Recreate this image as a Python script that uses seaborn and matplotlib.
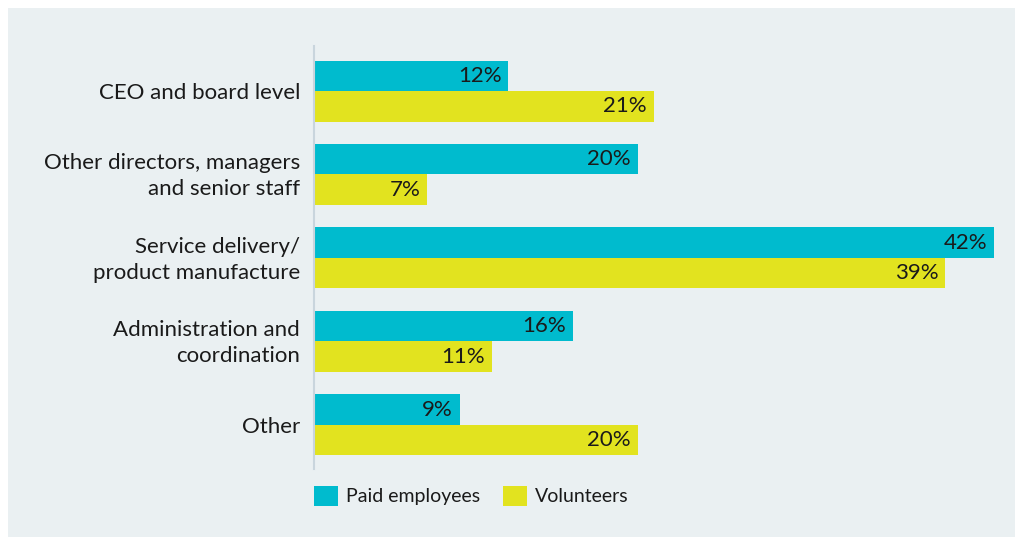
import matplotlib
matplotlib.use("Agg")
import matplotlib.pyplot as plt
import matplotlib.transforms as mtransforms
import seaborn as sns
import pandas as pd
from matplotlib.patches import Rectangle, Patch

categories = [
    "CEO and board level",
    "Other directors, managers\nand senior staff",
    "Service delivery/\nproduct manufacture",
    "Administration and\ncoordination",
    "Other",
]
paid_employees = [12, 20, 42, 16, 9]
volunteers = [21, 7, 39, 11, 20]
series_names = ["Paid employees", "Volunteers"]

TEAL = "#00BBCE"
YELLOW = "#E2E31F"
PANEL = "#EAF0F2"
TEXT = "#1A1A1A"

df = pd.DataFrame({
    "category": categories * 2,
    "value": paid_employees + volunteers,
    "series": [series_names[0]] * len(categories) + [series_names[1]] * len(categories),
})

sns.set_theme(style="white")
plt.rcParams["font.family"] = ["Lato", "DejaVu Sans"]

W, H = 1015, 537
fig = plt.figure(figsize=(W / 100, H / 100), dpi=100)
fig.patch.set_facecolor("white")
fig.patches.append(Rectangle((8 / W, 0), 1 - 8 / W, 1 - 8 / H, transform=fig.transFigure,
                             facecolor=PANEL, edgecolor="none", zorder=-1))

ax = fig.add_axes([314 / W, 1 - 469 / H, (994 - 314) / W, (469 - 46) / H])
ax.set_facecolor("none")

sns.barplot(data=df, y="category", x="value", hue="series", orient="h",
            palette=[TEAL, YELLOW], width=0.73, saturation=1, ax=ax,
            legend=False, errorbar=None, linewidth=0, edgecolor="none")

ax.set_xlim(0, 42)
ax.set_ylim(4.53, -0.54)
ax.set_xlabel("")
ax.set_ylabel("")
ax.set_xticks([])
ax.tick_params(axis="y", length=0, pad=10, labelsize=16, labelcolor=TEXT)
lift = mtransforms.ScaledTranslation(0, 3 / 100, fig.dpi_scale_trans)
for lbl in ax.get_yticklabels():
    lbl.set_horizontalalignment("right")
    lbl.set_multialignment("right")
    lbl.set_linespacing(1.35)
    if "\n" in lbl.get_text():
        lbl.set_transform(lbl.get_transform() + lift)

for s in ["top", "right", "bottom"]:
    ax.spines[s].set_visible(False)
ax.spines["left"].set_color("#C9D5DD")
ax.spines["left"].set_linewidth(1.5)

# value labels right-aligned just inside the end of each bar
for container in ax.containers:
    for bar, v in zip(container.patches, container.datavalues):
        ax.annotate(f"{v:.0f}%", xy=(v, bar.get_y() + bar.get_height() / 2),
                    xytext=(-5, 0), textcoords="offset points",
                    ha="right", va="center", fontsize=16, color=TEXT)

handles = [Patch(facecolor=TEAL, edgecolor="none"), Patch(facecolor=YELLOW, edgecolor="none")]
fig.legend(handles, series_names, loc="upper left",
           bbox_to_anchor=(296 / W, 1 - 468 / H), ncol=2, frameon=False,
           fontsize=14, handlelength=1.25, handleheight=1.25, handletextpad=0.4,
           columnspacing=1.2, labelcolor=TEXT)

fig.savefig("out.png", dpi=100, facecolor="white")
